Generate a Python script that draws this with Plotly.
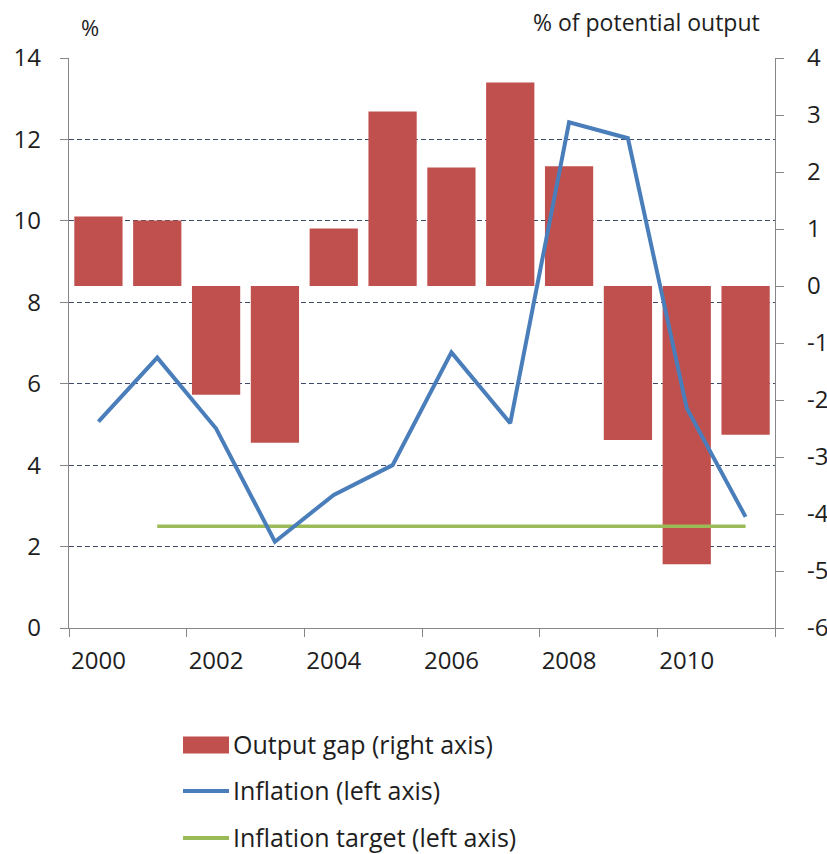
import plotly.graph_objects as go

# Annual data, 2000-2011
years = ["2000", "2001", "2002", "2003", "2004", "2005",
         "2006", "2007", "2008", "2009", "2010", "2011"]
output_gap = [1.22, 1.15, -1.91, -2.75, 1.01, 3.06,
              2.08, 3.57, 2.10, -2.70, -4.88, -2.61]
inflation = [5.07, 6.64, 4.90, 2.12, 3.27, 4.00,
             6.77, 5.03, 12.42, 12.03, 5.40, 2.73]
target_years = years[1:]
inflation_target = [2.5] * len(target_years)

left_ticks = [0, 2, 4, 6, 8, 10, 12, 14]
right_ticks = [-6, -5, -4, -3, -2, -1, 0, 1, 2, 3, 4]
year_labels = ["2000", "2002", "2004", "2006", "2008", "2010"]

RED = "#C0504D"
BLUE = "#4A7EBB"
GREEN = "#9BBB59"
AXIS = "#868686"
GRID = "#3F4B66"
TEXT = "#1E1E1E"
FONT = "Open Sans"

W, H = 827, 854
ML, MR, MT, MB = 69, 52, 58, 226
PW, PH = W - ML - MR, H - MT - MB


def px_x(x):
    return (x - ML) / PW


def px_y(y):
    return (H - MB - y) / PH


xpos = {y: i for i, y in enumerate(years)}

fig = go.Figure()

fig.add_trace(go.Bar(
    x=[xpos[y] for y in years], y=output_gap,
    marker=dict(color=RED, line=dict(width=0)),
    width=0.82, yaxis="y", showlegend=False,
))
fig.add_trace(go.Scatter(
    x=[xpos[y] for y in target_years], y=inflation_target,
    mode="lines", line=dict(color=GREEN, width=3.5),
    yaxis="y2", showlegend=False,
))
fig.add_trace(go.Scatter(
    x=[xpos[y] for y in years], y=inflation,
    mode="lines", line=dict(color=BLUE, width=4),
    yaxis="y2", showlegend=False,
))

tick_font = dict(family=FONT, size=24, color=TEXT)

fig.update_layout(
    width=W, height=H,
    margin=dict(l=ML, r=MR, t=MT, b=MB, autoexpand=False),
    paper_bgcolor="white", plot_bgcolor="white",
    xaxis=dict(
        range=[-0.5, len(years) - 0.5],
        tickmode="array",
        tickvals=[xpos[y] for y in year_labels],
        ticktext=year_labels,
        ticks="",
        ticklabelstandoff=11,
        tickfont=tick_font,
        showline=True, linecolor=AXIS, linewidth=1.3,
        showgrid=False, zeroline=False, automargin=False,
        minor=dict(
            tickmode="array",
            tickvals=[i - 0.5 for i in range(0, len(years) + 1, 2)],
            ticks="outside", ticklen=8, tickcolor=AXIS, tickwidth=1.3,
            showgrid=False,
        ),
    ),
    yaxis=dict(
        side="right",
        range=[-6, 4],
        tickmode="array", tickvals=right_ticks,
        ticktext=[str(v) for v in right_ticks],
        ticks="outside", ticklen=8, tickcolor=AXIS, tickwidth=1.3,
        ticklabelstandoff=18,
        tickfont=tick_font,
        showline=True, linecolor=AXIS, linewidth=1.3,
        showgrid=False, zeroline=False, automargin=False,
    ),
    yaxis2=dict(
        overlaying="y", side="left",
        range=[0, 14],
        tickmode="array", tickvals=left_ticks,
        ticks="outside", ticklen=8, tickcolor=AXIS, tickwidth=1.3,
        ticklabelstandoff=14,
        tickfont=tick_font,
        showline=True, linecolor=AXIS, linewidth=1.3,
        showgrid=True, gridcolor=GRID, gridwidth=1, griddash="5px,3px",
        zeroline=False, automargin=False,
    ),
)

# Axis unit labels
fig.add_annotation(text="%", xref="paper", yref="paper",
                   x=px_x(90), y=px_y(27), xanchor="center", yanchor="middle",
                   showarrow=False, font=dict(family=FONT, size=22, color=TEXT))
fig.add_annotation(text="% of potential output", xref="paper", yref="paper",
                   x=px_x(531), y=px_y(22), xanchor="left", yanchor="middle",
                   showarrow=False, font=dict(family=FONT, size=23, color=TEXT))

# Legend below the plot
legend_items = [
    ("bar", RED, "Output gap (right axis)", 745),
    ("line", BLUE, "Inflation (left axis)", 791),
    ("line", GREEN, "Inflation target (left axis)", 838),
]
for kind, color, label, cy in legend_items:
    if kind == "bar":
        fig.add_shape(type="rect", xref="paper", yref="paper",
                      x0=px_x(183), x1=px_x(229),
                      y0=px_y(cy + 8.5), y1=px_y(cy - 8.5),
                      fillcolor=color, line=dict(width=0))
    else:
        fig.add_shape(type="line", xref="paper", yref="paper",
                      x0=px_x(183), x1=px_x(229),
                      y0=px_y(cy), y1=px_y(cy),
                      line=dict(color=color, width=4))
    fig.add_annotation(text=label, xref="paper", yref="paper",
                       x=px_x(231), y=px_y(cy - 1), xanchor="left", yanchor="middle",
                       showarrow=False,
                       font=dict(family=FONT, size=25, color=TEXT))

fig.write_html("out.html")
